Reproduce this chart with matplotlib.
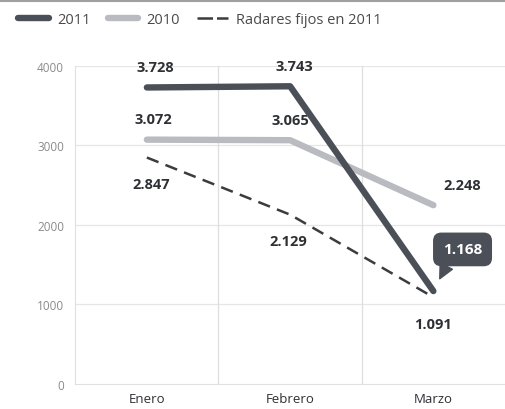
import matplotlib.pyplot as plt
from matplotlib.lines import Line2D

plt.rcParams['font.family'] = ['Open Sans', 'DejaVu Sans']

MESES = ["Enero", "Febrero", "Marzo"]
V2011 = [3728, 3743, 1168]
V2010 = [3072, 3065, 2248]
RADARES = [2847, 2129, 1091]
YTICKS = [0, 1000, 2000, 3000, 4000]

C2011 = "#4b5058"
C2010 = "#b9bbc0"
CRAD = "#3a3c40"
TXT = "#2e3034"


def fmt(v):
    # separador de miles al estilo español
    return f"{v:,}".replace(",", ".")


fig = plt.figure(figsize=(5.05, 4.1), dpi=100)
ax = fig.add_axes([0.149, 0.061, 0.851, 0.776])
x = range(len(MESES))

ax.plot(x, V2010, color=C2010, lw=4.6, solid_capstyle="round", zorder=3, clip_on=False)
ax.plot(x, V2011, color=C2011, lw=4.6, solid_capstyle="round", zorder=4, clip_on=False)
ax.plot(x, RADARES, color=CRAD, lw=1.8, dashes=(5, 3), zorder=5, clip_on=False)

# etiquetas de valores
kw = dict(fontsize=10.5, fontweight="bold", color=TXT, ha="center", textcoords="offset points")
ax.annotate(fmt(V2011[0]), (0, V2011[0]), xytext=(6, 12), **kw)
ax.annotate(fmt(V2011[1]), (1, V2011[1]), xytext=(3, 12), **kw)
ax.annotate(fmt(V2010[0]), (0, V2010[0]), xytext=(5, 12), **kw)
ax.annotate(fmt(V2010[1]), (1, V2010[1]), xytext=(0, 12), **kw)
ax.annotate(fmt(V2010[2]), (2, V2010[2]), xytext=(21, 12), **kw)
ax.annotate(fmt(RADARES[0]), (0, RADARES[0]), xytext=(3, -22), **kw)
ax.annotate(fmt(RADARES[1]), (1, RADARES[1]), xytext=(-1, -22), **kw)
ax.annotate(fmt(RADARES[2]), (2, RADARES[2]), xytext=(0, -22), **kw)

# burbuja para marzo 2011
ax.annotate(fmt(V2011[2]), (2, V2011[2]), xytext=(21, 30), textcoords="offset points",
            fontsize=11, fontweight="bold", color="white", ha="center", va="center",
            bbox=dict(boxstyle="round,pad=0.6,rounding_size=0.5", fc=C2011, ec=C2011),
            arrowprops=dict(arrowstyle="wedge,tail_width=0.9,shrink_factor=0.5", fc=C2011, ec=C2011,
                            shrinkA=0, shrinkB=10, relpos=(0.25, 0.2)),
            zorder=6)

ax.set_xlim(-0.5, 2.5)
ax.set_ylim(0, 4000)
ax.set_xticks(list(x))
ax.set_xticklabels(MESES, fontsize=9.5, color=TXT)
ax.set_yticks(YTICKS)
ax.set_yticklabels([str(t) for t in YTICKS], fontsize=8.5, color="#8a8a8a")
ax.tick_params(length=0, pad=8)
ax.tick_params(axis="x", pad=6)

for t in YTICKS[1:]:
    ax.axhline(t, color="#e6e6e6", lw=0.9, zorder=0)
for xv in [0.5, 1.5]:
    ax.axvline(xv, color="#dedede", lw=0.9, zorder=0)

for s in ["top", "right"]:
    ax.spines[s].set_visible(False)
ax.spines["left"].set_color("#e0e0e0")
ax.spines["bottom"].set_color("#e0e0e0")

handles = [
    Line2D([], [], color=C2011, lw=4.6, solid_capstyle="round"),
    Line2D([], [], color=C2010, lw=4.6, solid_capstyle="round"),
    Line2D([], [], color=CRAD, lw=1.8, dashes=(6.2, 1.6)),
]
fig.legend(handles, ["2011", "2010", "Radares fijos en 2011"], loc="upper left",
           bbox_to_anchor=(0.01, 1.0), ncol=3, frameon=False, fontsize=10.5,
           handlelength=2.1, columnspacing=1.2, handletextpad=0.55, labelcolor="#4a4a4a")

# línea superior del recorte
fig.add_artist(Line2D([0, 1], [0.995, 0.995], color="#a0a0a0", lw=1.5, transform=fig.transFigure))

fig.savefig("out.png", dpi=100)
